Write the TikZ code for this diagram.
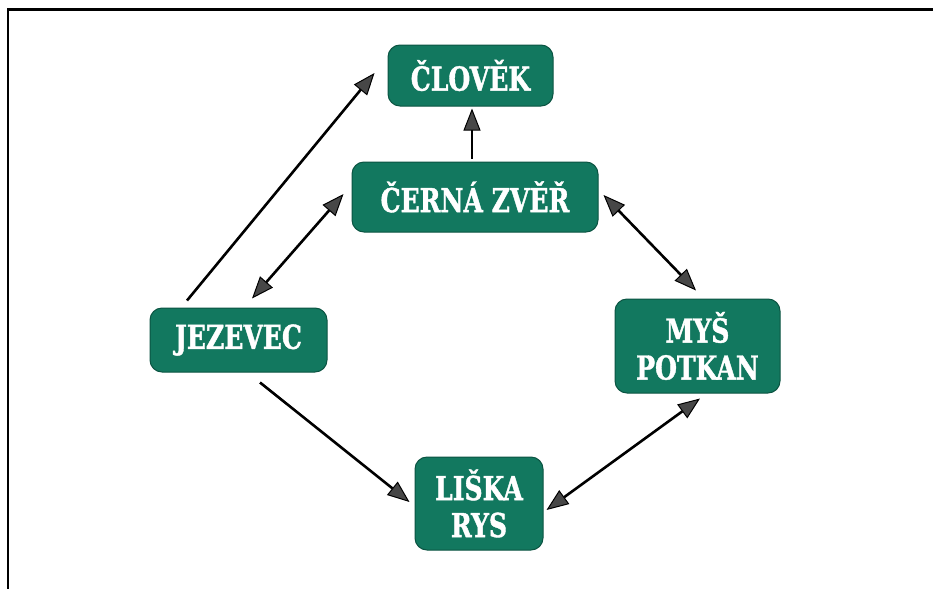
\documentclass[tikz,border=0pt]{standalone}
\usepackage{fontspec}
\newfontfamily\boxfont[FakeStretch=0.76,FakeBold=1.2]{DejaVu Serif}
\usetikzlibrary{arrows.meta,calc}
\definecolor{boxgreen}{HTML}{12785F}
\definecolor{boxedge}{HTML}{0B5442}
\tikzset{
  animal/.style={draw=boxedge, line width=1pt, fill=boxgreen, rounded corners=12pt,
    text=white, align=center, inner sep=0pt,
    font=\boxfont\bfseries\fontsize{33}{37}\selectfont},
  arr/.style={line width=2.6pt, draw=black, -{Triangle[length=22pt,width=17pt,line width=1pt,fill=black!72]}},
  darr/.style={line width=2.6pt, draw=black, {Triangle[length=22pt,width=17pt,line width=1pt,fill=black!72]}-{Triangle[length=22pt,width=17pt,line width=1pt,fill=black!72]}},
  frameline/.style={line width=2.4pt, draw=black}
}
\begin{document}
\begin{tikzpicture}[x=1pt,y=-1pt]
\useasboundingbox (0,0) rectangle (933,589);
\fill[white] (0,0) rectangle (933,589);
\coordinate (ftop) at (933,9.5);
\coordinate (fcorner) at (8,9.5);
\coordinate (fbottom) at (8,589);
\draw[frameline] (ftop) -- (fcorner) -- (fbottom);

\node[animal, minimum width=165pt, minimum height=61pt] (clovek) at (470.5,75.5) {ČLOVĚK};
\node[animal, minimum width=246pt, minimum height=70pt] (cerna) at (475,197) {ČERNÁ ZVĚŘ};
\node[animal, minimum width=177pt, minimum height=64pt] (jezevec) at (238.5,340) {JEZEVEC};
\node[animal, minimum width=165pt, minimum height=94pt] (mys) at (697.5,346) {MYŠ\\POTKAN};
\node[animal, minimum width=128pt, minimum height=93pt] (liska) at (479,503.5) {LIŠKA\\RYS};

\draw[arr] ($(cerna.north)+(-3,-3)$) -- ($(clovek.south)+(1.5,2)$);
\draw[arr] ($(jezevec.north)+(-51.5,-7)$) -- ($(clovek.west)+(-13,-2.5)$);
\draw[darr] ($(jezevec.north)+(13.5,-9)$) -- ($(cerna.west)+(-8,-3)$);
\draw[darr] ($(cerna.east)+(5,-2)$) -- ($(mys.north)+(-1.5,-8)$);
\draw[arr] ($(jezevec.south)+(21.5,10)$) -- ($(liska.west)+(-5,-1.5)$);
\draw[darr] ($(mys.south)+(2.5,5)$) -- ($(liska.east)+(3,6.5)$);
\end{tikzpicture}
\end{document}
